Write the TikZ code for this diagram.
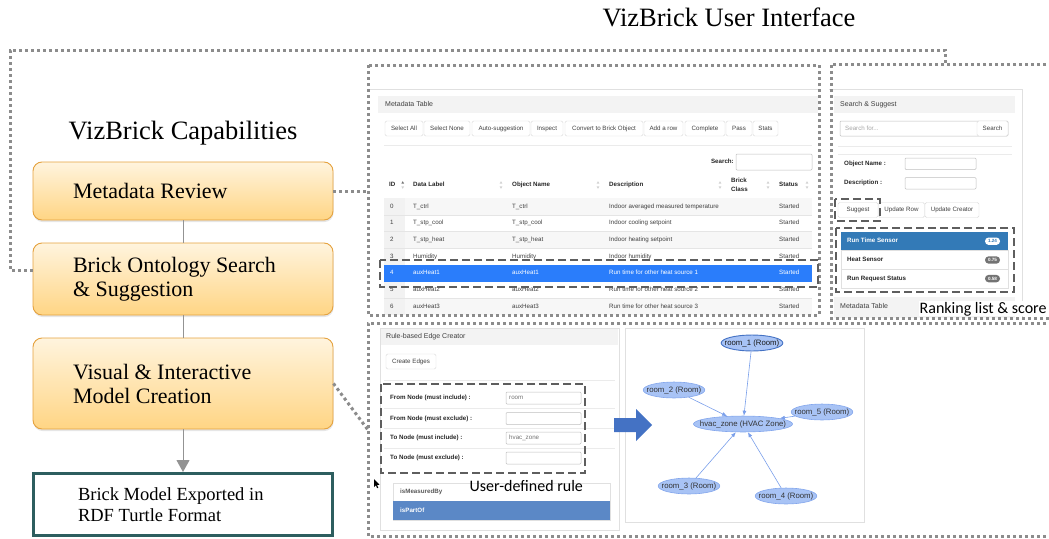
\documentclass[tikz,border=0pt]{standalone}
\usepackage{fontspec}
\setmainfont{Liberation Serif}
\newfontfamily\uifont{Liberation Sans}
\newfontfamily\notefont{Carlito}
\usepackage{xcolor}
\usepackage{tikz}
\usetikzlibrary{shapes.geometric,arrows.meta,positioning,shadows,calc}
\definecolor{capedge}{HTML}{E5A23F}
\definecolor{captop}{HTML}{FFF4DE}
\definecolor{capbot}{HTML}{FFD584}
\definecolor{exportteal}{HTML}{2D5E5F}
\definecolor{dotgray}{HTML}{8C8C8C}
\definecolor{dashgray}{HTML}{5E5E5E}
\definecolor{rowblue}{HTML}{2A7DFB}
\definecolor{rankblue}{HTML}{337AB7}
\definecolor{partblue}{HTML}{5B88C6}
\definecolor{flowblue}{HTML}{4472C4}
\definecolor{gfill}{HTML}{A8C3F5}
\definecolor{gline}{HTML}{83A6EC}
\definecolor{gedgeblue}{HTML}{7A9FEA}
\definecolor{hdrgray}{HTML}{F3F3F3}
\newcommand{\uitxt}{\uifont\fontsize{6.2}{7.4}\selectfont}
\newcommand{\uihdr}{\uifont\fontsize{7}{8.4}\selectfont}
\newcommand{\natsp}{\spaceskip=0pt\xspaceskip=0pt\relax}
\tikzset{
    capbox/.style={rectangle, draw=capedge, line width=0.9pt, rounded corners=9pt, top color=captop, bottom color=capbot, minimum width=300pt, inner xsep=40pt, text width=220pt, align=left, font=\fontsize{22}{24}\selectfont, drop shadow={opacity=0.2, shadow xshift=0.5pt, shadow yshift=-2pt}},
    exportbox/.style={rectangle, draw=exportteal, line width=3pt, fill=white, minimum width=299pt, minimum height=62pt, inner xsep=44.5pt, text width=210pt, align=left, font=\fontsize{18.5}{21.5}\selectfont},
    link/.style={draw=gray!85, line width=1pt},
    uiframe/.style={draw=dotgray, line width=3pt, dash pattern=on 3pt off 3pt},
    hilite/.style={draw=dashgray, line width=2.4pt, dash pattern=on 8pt off 4pt},
    panel/.style={draw=black!12, line width=0.6pt},
    hdrbar/.style={fill=hdrgray},
    cell/.style={anchor=west, inner sep=0pt, text height=4.6pt, text depth=1.3pt, font=\uitxt, text=black!75},
    hcell/.style={cell, font=\uitxt\bfseries, text=black!85},
    uibtn/.style={rectangle, draw=black!15, fill=white, rounded corners=1.5pt, minimum height=15pt, inner sep=0pt, text height=4.6pt, text depth=1.3pt, font=\uitxt, text=black!75},
    uiinput/.style={draw=black!25, fill=white, rounded corners=1pt, line width=0.5pt},
    badge/.style={rectangle, rounded corners=3.6pt, minimum width=15pt, minimum height=7.4pt, inner sep=0pt, font=\uifont\bfseries\fontsize{4.6}{5}\selectfont},
    gnode/.style={ellipse, fill=gfill, draw=gline, line width=0.6pt, inner xsep=-5.5pt, inner ysep=2pt, font=\uifont\fontsize{7.8}{9}\selectfont, text=black!80},
    gedge/.style={draw=gedgeblue, line width=0.6pt, -{Latex[length=5pt,width=4pt]}},
    note/.style={inner sep=0.5pt, fill=white, font=\notefont\fontsize{16}{18}\selectfont}
}

\begin{document}
\begin{tikzpicture}[x=1pt, y=-1pt]
    \useasboundingbox (0,0) rectangle (1049,538);

    % Titles
    \node [anchor=base, font=\fontsize{26.5}{30}\selectfont] (capTitle) at (183,139) {VizBrick Capabilities};
    \node [anchor=base, font=\fontsize{26.5}{30}\selectfont] (uiTitle) at (729,27) {VizBrick User Interface};

    % Capabilities column
    \node [capbox, minimum height=58pt] (review) at (183,191) {\natsp Metadata Review};
    \node [capbox, minimum height=72pt] (suggest) at (183,279) {\natsp Brick Ontology Search\\\& Suggestion};
    \node [capbox, minimum height=91pt] (creation) at (183,383.5) {\natsp Visual \& Interactive\\Model Creation};
    \node [exportbox] (export) at (183,504.5) {\natsp Brick Model Exported in\\RDF Turtle Format};

    \path [link] (review) -- (suggest);
    \path [link] (suggest) -- (creation);
    \path [link, -{Triangle[length=12pt, width=13pt]}] (creation) -- (export);

    % Metadata table screenshot
    \draw [panel] (370,89) -- (818,89);
    \fill [hdrbar] (378,96) rectangle (818,113);
    \node [cell, font=\uihdr] (tblHead) at (385,104.5) {Metadata Table};
    \foreach \bx/\bw/\bt [count=\k] in {404/38/Select All, 447/46/Select None, 501/58/Auto-suggestion, 547/32/Inspect, 604/78/Convert to Brick Object, 663.5/39/Add a row, 705/40/Complete, 739/26/Pass, 765.5/25/Stats}
        \node [uibtn, minimum width=\bw] (tblBtn\k) at (\bx,128.5) {\bt};
    \draw [black!8] (384,145) -- (812,145);
    \node [hcell, anchor=east] (srchLbl) at (734,162) {Search:};
    \draw [uiinput] (736,154) rectangle (812,170);

    \node [hcell] (hID) at (389,185) {ID};
    \node [hcell] (hLabel) at (413,185) {Data Label};
    \node [hcell] (hObj) at (512,185) {Object Name};
    \node [hcell] (hDesc) at (609,185) {Description};
    \node [hcell, text height={}, text depth={}, align=left, font=\uifont\bfseries\fontsize{6.2}{8.5}\selectfont] (hClass) at (731,185) {Brick\\Class};
    \node [hcell] (hStatus) at (779,185) {Status};
    \foreach \sx in {501,598,720,768,807} {
        \fill [black!18] (\sx-1.4,183.6) -- (\sx+1.4,183.6) -- (\sx,181.2) -- cycle;
        \fill [black!18] (\sx-1.4,186.4) -- (\sx+1.4,186.4) -- (\sx,188.8) -- cycle;
    }
    \fill [black!55] (401.3,183.6) -- (404.1,183.6) -- (402.7,181.2) -- cycle;
    \fill [black!18] (401.3,186.4) -- (404.1,186.4) -- (402.7,188.8) -- cycle;
    \draw [black!45, line width=0.9pt] (384,198) -- (812,198);

    \foreach \r in {0,2,4,6}
        \fill [black!3] (384,{198+16.7*\r}) rectangle (812,{214.7+16.7*\r});
    \foreach \r in {0,...,6}
        \fill [black!5] (384,{198+16.7*\r}) rectangle (405,{214.7+16.7*\r});
    \foreach \r in {1,...,6}
        \draw [black!10] (384,{198+16.7*\r}) -- (812,{198+16.7*\r});
    \foreach \r/\lab/\desc in {0/T\_ctrl/Indoor averaged measured temperature, 1/T\_stp\_cool/Indoor cooling setpoint, 2/T\_stp\_heat/Indoor heating setpoint, 3/Humidity/Indoor humidity, 5/auxHeat2/Run time for other heat source 2, 6/auxHeat3/Run time for other heat source 3} {
        \node [cell] (id\r) at (390,{206.4+16.7*\r}) {\r};
        \node [cell] (lab\r) at (413,{206.4+16.7*\r}) {\lab};
        \node [cell] (obj\r) at (512,{206.4+16.7*\r}) {\lab};
        \node [cell] (desc\r) at (609,{206.4+16.7*\r}) {\desc};
        \node [cell] (stat\r) at (779,{206.4+16.7*\r}) {Started};
    }
    \fill [rowblue] (384,264.8) rectangle (812,281.5);
    \node [cell, text=white] (id4) at (390,273.2) {4};
    \node [cell, text=white] (lab4) at (413,273.2) {auxHeat1};
    \node [cell, text=white] (obj4) at (512,273.2) {auxHeat1};
    \node [cell, text=white] (desc4) at (609,273.2) {Run time for other heat source 1};
    \node [cell, text=white] (stat4) at (779,273.2) {Started};

    % Search and suggest screenshot
    \draw [panel] (829,89) -- (1022,89) -- (1022,320);
    \fill [hdrbar] (834,96) rectangle (1015,113);
    \node [cell, font=\uihdr] (sugHead) at (840,104.5) {Search \& Suggest};
    \draw [uiinput] (840,121) rectangle (1008,136);
    \node [cell, text=black!35] (sugHint) at (845,128.5) {Search for...};
    \node [uibtn, minimum width=31] (sugSearch) at (992.5,128.5) {Search};
    \draw [black!8] (838,146) -- (1012,146);
    \draw [black!8] (838,154.5) -- (1012,154.5);
    \node [hcell] (objLbl) at (844,163.5) {Object Name :};
    \draw [uiinput] (905,158) rectangle (976,169.5);
    \node [hcell] (descLbl) at (844,183) {Description :};
    \draw [uiinput] (905,177.5) rectangle (976,189);
    \node [uibtn, minimum width=40] (btnSuggest) at (858,210) {Suggest};
    \node [uibtn, minimum width=46] (btnRow) at (901.5,210) {Update Row};
    \node [uibtn, minimum width=54] (btnCreator) at (952,210) {Update Creator};

    \fill [rankblue] (841,232) rectangle (1008,250.5);
    \draw [black!12] (841,250.5) rectangle (1008,288);
    \draw [black!12] (841,269) -- (1008,269);
    \node [hcell, text=white] (rank1) at (847,241.2) {Run Time Sensor};
    \node [badge, fill=white, text=rankblue] (score1) at (992.5,241.2) {1.24};
    \node [hcell] (rank2) at (847,260) {Heat Sensor};
    \node [badge, fill=black!55, text=white] (score2) at (992.5,260) {0.75};
    \node [hcell] (rank3) at (847,278.6) {Run Request Status};
    \node [badge, fill=black!55, text=white] (score3) at (992.5,278.6) {0.58};
    \fill [hdrbar] (834,297) rectangle (1015,318);
    \node [cell, font=\uihdr] (sugTbl) at (840,306.5) {Metadata Table};

    % Edge creator screenshot
    \draw [panel] (380,328) rectangle (619,530);
    \fill [hdrbar] (381,329) rectangle (618,345);
    \node [cell, font=\uihdr] (ruleHead) at (386,337) {Rule-based Edge Creator};
    \node [uibtn, minimum width=50] (btnEdges) at (411,361.5) {Create Edges};
    \foreach \ly in {380,408,428,448}
        \draw [black!8] (384,\ly) -- (615,\ly);
    \foreach \ly/\lt [count=\k] in {398/From Node (must include) :, 418.5/From Node (must exclude) :, 438/To Node (must include) :, 458/To Node (must exclude) :} {
        \node [hcell] (rule\k) at (390,\ly) {\lt};
        \draw [uiinput] (506,\ly-6) rectangle (581,\ly+6);
    }
    \node [cell, text=black!55] (fromVal) at (509,398) {room};
    \node [cell, text=black!55] (toVal) at (509,438) {hvac\_zone};
    \draw [black!12] (393,483) rectangle (610,520);
    \node [hcell, text=black!65] (relMeas) at (400,492) {isMeasuredBy};
    \fill [partblue] (393,501) rectangle (610,520);
    \node [hcell, text=white] (relPart) at (400,510.5) {isPartOf};
    \fill [black] (374,479) -- (374,487) -- (375.8,485.3) -- (377.2,488.2) -- (378.3,487.7) -- (377,484.9) -- (379.5,484.7) -- cycle;

    % Graph view
    \draw [panel] (625,328) rectangle (864,522);
    \fill [flowblue] (614,418) -- (636,418) -- (636,409) -- (652,425) -- (636,441) -- (636,432) -- (614,432) -- cycle;
    \node [gnode, inner xsep=-8pt] (hvac) at (743,424) {hvac\_zone (HVAC Zone)};
    \node [gnode, draw=flowblue, line width=0.9pt, text=black!90] (room1) at (752,343) {room\_1 (Room)};
    \node [gnode] (room2) at (674,390) {room\_2 (Room)};
    \node [gnode] (room5) at (822,412) {room\_5 (Room)};
    \node [gnode] (room3) at (689,486) {room\_3 (Room)};
    \node [gnode] (room4) at (786,496) {room\_4 (Room)};
    \path [gedge] (room1) -- (hvac);
    \path [gedge] (room2) -- (hvac);
    \path [gedge] (room5) -- (hvac);
    \path [gedge] (room3) -- (hvac);
    \path [gedge] (room4) -- (hvac);

    % Notes
    \node [note, anchor=base west] (rankNote) at (919,313) {Ranking list \& score};
    \node [note, fill=none, anchor=base west] (ruleNote) at (469,491) {User-defined rule};

    % Dotted frames and links
    \coordinate (tblNW) at (368,65);
    \coordinate (tblSE) at (819,315);
    \coordinate (sugNW) at (831,64);
    \coordinate (edgeNW) at (368,323);
    \coordinate (edgeIn) at (368,430);
    \coordinate (outerTL) at (10,50);
    \coordinate (outerTR) at (945,50);
    \draw [uiframe] (tblNW) rectangle (tblSE);
    \draw [uiframe] (review.east) -- (review.east -| tblNW);
    \draw [uiframe] ([yshift=9pt]suggest.west) -| (outerTL) -| (outerTR |- sugNW);
    \draw [uiframe] (1052,64) -- (sugNW) -- (831,318) -- (1052,318);
    \draw [uiframe] (1052,323) -- (edgeNW) -- (368,536) -- (1052,536);
    \draw [uiframe] (creation.east) -- (edgeIn);

    % Dashed highlights
    \draw [hilite] (380,260) rectangle (818,287);
    \draw [hilite] (835,199) rectangle (880,221);
    \draw [hilite] (836,228) rectangle (1014,292);
    \draw [hilite] (381,384) rectangle (585,473);
\end{tikzpicture}
\end{document}
